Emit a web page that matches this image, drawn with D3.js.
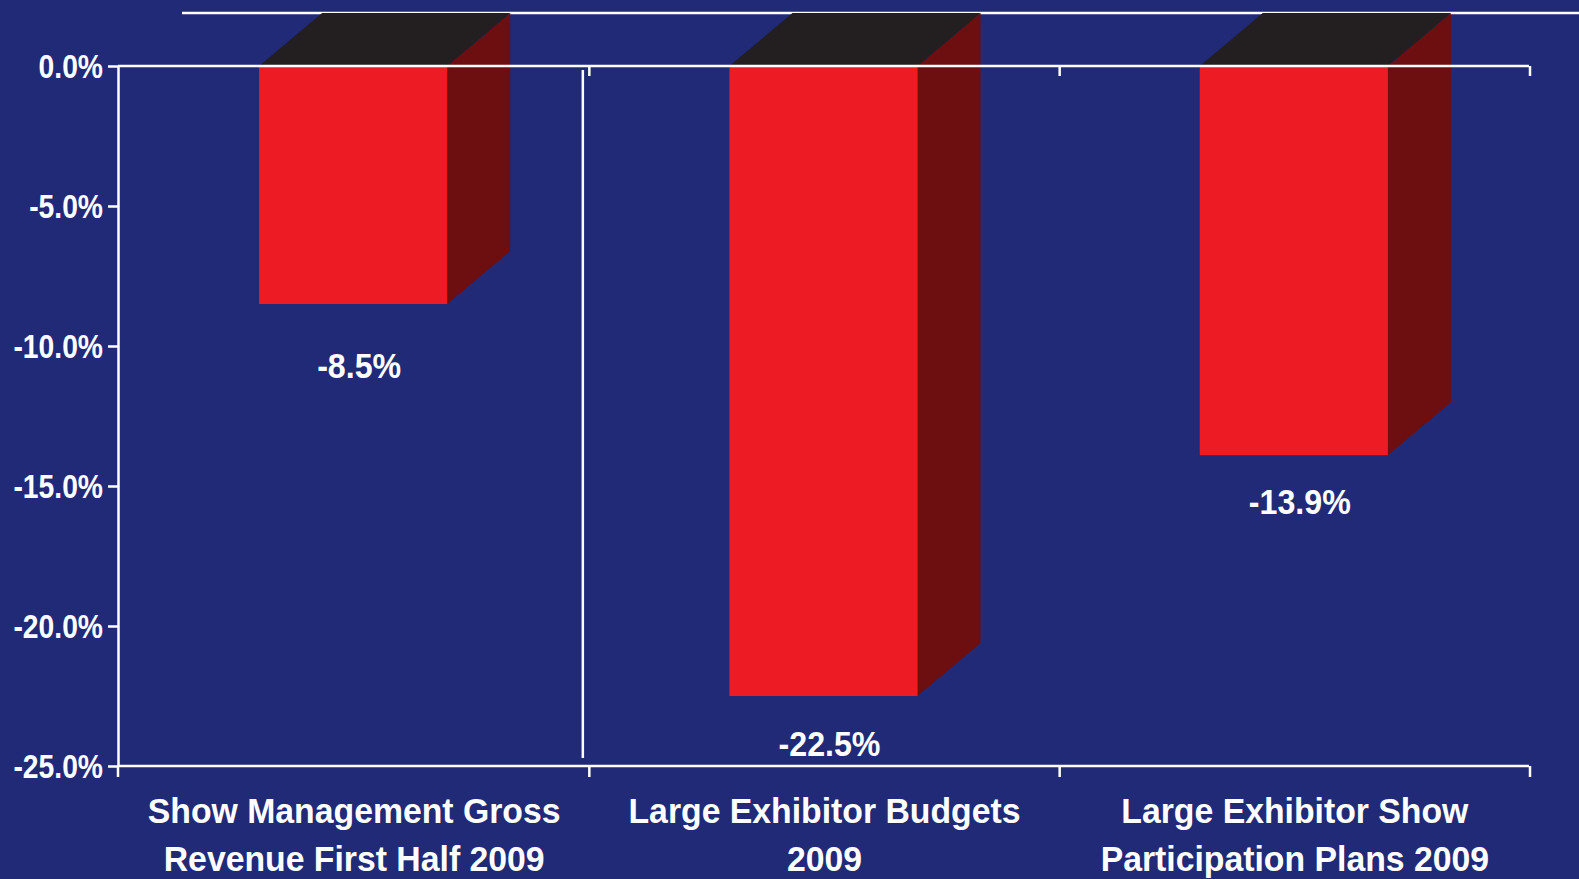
<!DOCTYPE html>
<html>
<head>
<meta charset="utf-8">
<script src="https://cdn.jsdelivr.net/npm/d3@7/dist/d3.min.js"></script>
<style>
  html, body { margin: 0; padding: 0; background: #212a77; overflow: hidden; }
  svg { display: block; }
  text { font-family: "Liberation Sans", Arial, Helvetica, sans-serif; font-weight: bold; fill: #ffffff; }
</style>
</head>
<body>
<svg id="chart" width="1579" height="879"></svg>
<script>
// Year-on-year change, 2009
const categories = [
  "Show Management Gross Revenue First Half 2009",
  "Large Exhibitor Budgets 2009",
  "Large Exhibitor Show Participation Plans 2009"
];
const categoryLines = [
  ["Show Management Gross", "Revenue First Half 2009"],
  ["Large Exhibitor Budgets", "2009"],
  ["Large Exhibitor Show", "Participation Plans 2009"]
];
const values = [-8.5, -22.5, -13.9];
const valueLabels = ["-8.5%", "-22.5%", "-13.9%"];
const yTicks = [0, -5, -10, -15, -20, -25];

const W = 1579, H = 879;
const plot = { left: 118, right: 1529, top: 66, bottom: 766 };
const depth = { dx: 63, dy: -53 };          // 3-D extrusion offset
const colors = {
  bg: "#212a77", front: "#ed1c24", side: "#6d0f11", top: "#231f20", line: "#ffffff"
};

const svg = d3.select("#chart");
svg.append("rect").attr("width", W).attr("height", H).attr("fill", colors.bg);

const x = d3.scaleBand().domain(categories).range([plot.left, plot.right]).paddingInner(0).paddingOuter(0);
const y = d3.scaleLinear().domain([0, -25]).range([plot.top, plot.bottom]);
const barW = x.bandwidth() * 0.4;

// back-wall top edge
svg.append("line")
  .attr("x1", plot.left + depth.dx + 1).attr("x2", W)
  .attr("y1", y(0) + depth.dy).attr("y2", y(0) + depth.dy)
  .attr("stroke", colors.line).attr("stroke-width", 2.5);

// divider between first and second category
const divX = x(categories[1]) - 5.5;
svg.append("line")
  .attr("x1", divX).attr("x2", divX)
  .attr("y1", y(0) + 4).attr("y2", y(-25) - 8)
  .attr("stroke", colors.line).attr("stroke-width", 2.5);

// bars (front, side, top faces)
const bars = svg.append("g").selectAll("g").data(values).join("g");
bars.each(function (v, i) {
  const g = d3.select(this);
  const x0 = x(categories[i]) + (x.bandwidth() - barW) / 2;
  const x1 = x0 + barW;
  const y0 = y(0), y1 = y(v);
  const { dx, dy } = depth;
  g.append("path")
    .attr("d", `M${x1},${y0} L${x1 + dx},${y0 + dy} L${x1 + dx},${y1 + dy} L${x1},${y1} Z`)
    .attr("fill", colors.side);
  g.append("path")
    .attr("d", `M${x0},${y0} L${x0 + dx},${y0 + dy} L${x1 + dx},${y0 + dy} L${x1},${y0} Z`)
    .attr("fill", colors.top);
  g.append("rect")
    .attr("x", x0).attr("y", y0).attr("width", barW).attr("height", y1 - y0)
    .attr("fill", colors.front);
});

// y axis
const yAxis = d3.axisLeft(y).tickValues(yTicks)
  .tickFormat(d => d3.format(".1f")(d).replace("\u2212", "-") + "%")
  .tickSize(10).tickSizeOuter(0).tickPadding(5);
const yG = svg.append("g").attr("transform", `translate(${plot.left},0)`).call(yAxis);
yG.select(".domain").attr("stroke", colors.line).attr("stroke-width", 2.5);
yG.selectAll(".tick line").attr("stroke", colors.line).attr("stroke-width", 2.5);
const tickSX = 0.87;
yG.selectAll(".tick text")
  .attr("fill", colors.line)
  .style("font-size", "32.5px")
  .attr("x", -15 / tickSX)
  .attr("dy", "0.36em")
  .attr("transform", `scale(${tickSX},1)`);

// horizontal axis lines at 0 % and at the floor, with category boundary ticks
const bounds = categories.map(c => x(c)).concat([plot.right]);
[0, -25].forEach(v => {
  svg.append("line")
    .attr("x1", plot.left).attr("x2", plot.right)
    .attr("y1", y(v)).attr("y2", y(v))
    .attr("stroke", colors.line).attr("stroke-width", 2.5);
});
svg.append("g").selectAll("line").data(bounds.slice(1)).join("line")
  .attr("x1", d => d + 1).attr("x2", d => d + 1)
  .attr("y1", y(0)).attr("y2", y(0) + 10)
  .attr("stroke", colors.line).attr("stroke-width", 2.5);
svg.append("g").selectAll("line").data(bounds).join("line")
  .attr("x1", (d, i) => i === 0 ? d : d + 1).attr("x2", (d, i) => i === 0 ? d : d + 1)
  .attr("y1", y(-25)).attr("y2", y(-25) + 11)
  .attr("stroke", colors.line).attr("stroke-width", 2.5);

// value labels beneath each bar
const labelGap = [61, 47, 46];
const valSX = 0.92;
svg.append("g").selectAll("text").data(values).join("text")
  .attr("transform", (v, i) => {
    const cx = x(categories[i]) + x.bandwidth() / 2 + 6;
    const cy = y(v) + labelGap[i];
    return `translate(${cx},${cy}) scale(${valSX},1)`;
  })
  .attr("text-anchor", "middle")
  .attr("dy", "0.36em")
  .style("font-size", "35px")
  .text((v, i) => valueLabels[i]);

// category labels
const catSX = 0.965;
const catG = svg.append("g").selectAll("text").data(categoryLines).join("text")
  .attr("transform", (d, i) => `translate(${x(categories[i]) + x.bandwidth() / 2 + 1},823) scale(${catSX},1)`)
  .attr("text-anchor", "middle")
  .style("font-size", "35px");
catG.selectAll("tspan").data(d => d).join("tspan")
  .attr("x", 0)
  .attr("dy", (d, j) => j === 0 ? 0 : 48)
  .text(d => d);
</script>
</body>
</html>
